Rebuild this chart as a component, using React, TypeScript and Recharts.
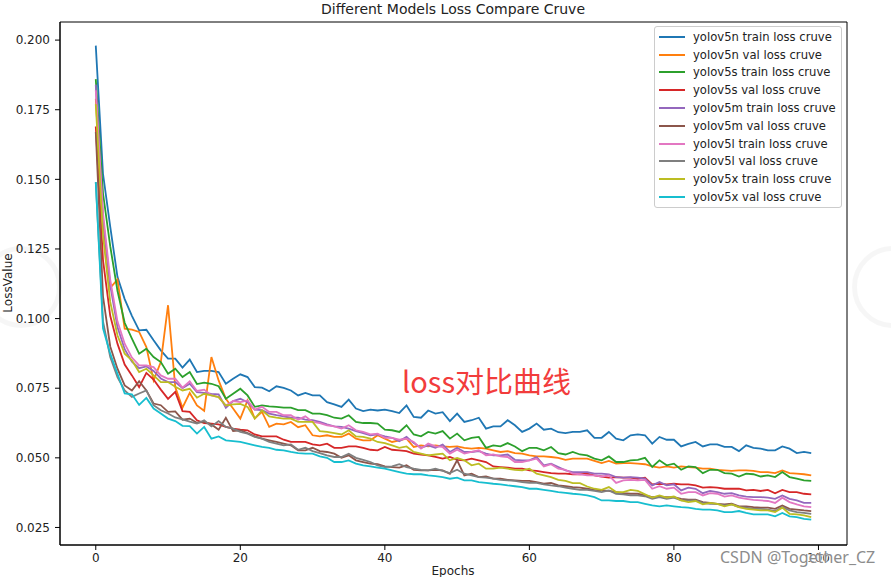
import { Line, LineChart, ReferenceArea, XAxis, YAxis } from 'recharts'

const epochs = Array.from({ length: 100 }, (_, i) => i)

const yolov5nTrain = [
  0.198, 0.152, 0.133, 0.115, 0.107, 0.101, 0.0958, 0.096, 0.0922, 0.0886, 0.0856,
  0.0856, 0.0824, 0.0853, 0.0808, 0.0812, 0.0812, 0.0808, 0.0766, 0.0784, 0.08, 0.079, 0.0754, 0.0752, 0.0739, 0.0757, 0.0751, 0.0742,
  0.0724, 0.0733, 0.0724, 0.0724, 0.07, 0.0692, 0.0683, 0.0709, 0.0677, 0.0668, 0.0673, 0.067, 0.0673, 0.0668, 0.0661, 0.0688, 0.0647, 0.0644, 0.067,
  0.0659, 0.0664, 0.0632, 0.0659, 0.0629, 0.0635, 0.0644, 0.0605, 0.0613, 0.0613, 0.0635, 0.0617, 0.0593, 0.0605, 0.0623, 0.0601, 0.0605, 0.0592,
  0.0589, 0.0593, 0.0593, 0.0599, 0.0572, 0.0572, 0.0593, 0.0569, 0.0563, 0.0581, 0.0584, 0.0581, 0.0551, 0.0575, 0.0565, 0.0565, 0.0541, 0.055,
  0.0557, 0.0541, 0.0548, 0.0548, 0.0539, 0.0539, 0.0524, 0.0545, 0.0536, 0.0533, 0.0527, 0.0527, 0.0541, 0.0533, 0.0517, 0.0521, 0.0517,
]

const yolov5nVal = [
  0.179, 0.135, 0.111, 0.114, 0.0964, 0.096, 0.0952, 0.0898, 0.0778, 0.0844, 0.1048,
  0.0754, 0.068, 0.0733, 0.0688, 0.0669, 0.0862, 0.0778, 0.0712, 0.0677, 0.0641, 0.0706, 0.0641, 0.0665, 0.0611, 0.0623, 0.062, 0.0629,
  0.061, 0.0617, 0.0581, 0.0577, 0.0581, 0.0575, 0.0575, 0.0587, 0.0569, 0.0563, 0.0563, 0.0581, 0.0569, 0.0557, 0.0563, 0.0569, 0.0539, 0.0545, 0.0541,
  0.0545, 0.0541, 0.0539, 0.0541, 0.0536, 0.0533, 0.0536, 0.0533, 0.0527, 0.0521, 0.0524, 0.0517, 0.0515, 0.0509, 0.0505, 0.0505, 0.0503, 0.05,
  0.0493, 0.0497, 0.0497, 0.0497, 0.0489, 0.0481, 0.0489, 0.0479, 0.0481, 0.0481, 0.0479, 0.0477, 0.0469, 0.0465, 0.0469, 0.0465, 0.0469, 0.0467,
  0.0465, 0.0461, 0.0461, 0.0457, 0.0455, 0.0453, 0.0455, 0.0455, 0.0453, 0.0449, 0.0449, 0.0445, 0.0455, 0.0445, 0.0443, 0.0441, 0.0437,
]

const yolov5sTrain = [
  0.186, 0.145, 0.126, 0.11, 0.0985, 0.0928, 0.0874, 0.0892, 0.0862, 0.0844, 0.0802,
  0.082, 0.079, 0.0808, 0.0765, 0.077, 0.0766, 0.0757, 0.0712, 0.073, 0.0748, 0.0724, 0.0683, 0.0688, 0.0685, 0.0683, 0.068, 0.068,
  0.0671, 0.0671, 0.0659, 0.0659, 0.0653, 0.0644, 0.0641, 0.0653, 0.0629, 0.0625, 0.0625, 0.0623, 0.0601, 0.0599, 0.0593, 0.0617, 0.0584, 0.0577, 0.0593,
  0.0587, 0.0596, 0.0569, 0.0587, 0.0563, 0.0572, 0.0575, 0.0536, 0.0545, 0.0541, 0.0553, 0.0541, 0.0524, 0.0536, 0.0536, 0.0527, 0.0539, 0.0517,
  0.0512, 0.0521, 0.0512, 0.0509, 0.0497, 0.0491, 0.0505, 0.0485, 0.0485, 0.0491, 0.0493, 0.05, 0.0467, 0.0491, 0.0473, 0.0479, 0.0457, 0.0469,
  0.0467, 0.0445, 0.0457, 0.0457, 0.0445, 0.0443, 0.0433, 0.0443, 0.0441, 0.0433, 0.0437, 0.0431, 0.0449, 0.0431, 0.0425, 0.0419, 0.0417,
]

const yolov5sVal = [
  0.169, 0.121, 0.101, 0.091, 0.0835, 0.0796, 0.0754, 0.0805, 0.0781, 0.0745, 0.0712,
  0.0737, 0.0668, 0.0665, 0.0635, 0.0625, 0.0623, 0.062, 0.0611, 0.0605, 0.0601, 0.0599, 0.0584, 0.0577, 0.0577, 0.0577, 0.0565, 0.0557,
  0.0557, 0.0557, 0.0548, 0.0545, 0.0551, 0.0536, 0.0536, 0.0541, 0.0541, 0.0536, 0.0529, 0.0527, 0.0539, 0.0529, 0.0527, 0.0524, 0.0515, 0.0512, 0.0509,
  0.0503, 0.0497, 0.0503, 0.0493, 0.0491, 0.0497, 0.0491, 0.0485, 0.0469, 0.0467, 0.0465, 0.0461, 0.0461, 0.0455, 0.0453, 0.0449, 0.0445, 0.0443,
  0.0443, 0.0441, 0.0441, 0.0443, 0.0437, 0.0433, 0.0429, 0.0431, 0.0429, 0.0429, 0.0425, 0.0429, 0.0405, 0.0407, 0.0405, 0.0407, 0.0405, 0.0405,
  0.0401, 0.0393, 0.0395, 0.0393, 0.0389, 0.0389, 0.0389, 0.0383, 0.0385, 0.0381, 0.0385, 0.0373, 0.0385, 0.0377, 0.0377, 0.0371, 0.0369,
]

const yolov5mTrain = [
  0.184, 0.136, 0.112, 0.097, 0.089, 0.0845, 0.0822, 0.0828, 0.0812, 0.0785, 0.0772,
  0.0772, 0.075, 0.0766, 0.0736, 0.0733, 0.073, 0.0728, 0.068, 0.0704, 0.0712, 0.07, 0.0673, 0.0671, 0.0659, 0.0653, 0.0649, 0.0644,
  0.0644, 0.0637, 0.0635, 0.0629, 0.062, 0.0613, 0.0611, 0.0605, 0.0596, 0.0589, 0.0581, 0.0584, 0.0577, 0.0572, 0.056, 0.0575, 0.0553, 0.0536, 0.0545,
  0.0536, 0.0548, 0.0521, 0.0536, 0.0521, 0.0521, 0.0524, 0.0515, 0.0509, 0.0509, 0.0512, 0.0493, 0.0491, 0.0491, 0.0503, 0.0473, 0.0479, 0.0467,
  0.0455, 0.0449, 0.0449, 0.0449, 0.0443, 0.0443, 0.0441, 0.0431, 0.0429, 0.0431, 0.0429, 0.0425, 0.0401, 0.0413, 0.0401, 0.0405, 0.0383, 0.0393,
  0.0389, 0.0373, 0.0381, 0.0377, 0.0371, 0.0373, 0.0365, 0.0361, 0.0359, 0.0359, 0.0357, 0.0353, 0.0365, 0.0353, 0.0347, 0.0338, 0.0338,
]

const yolov5mVal = [
  0.167, 0.108, 0.09, 0.082, 0.076, 0.0742, 0.0775, 0.0742, 0.0695, 0.0689, 0.0665,
  0.0667, 0.0637, 0.0641, 0.0626, 0.0629, 0.062, 0.0601, 0.0644, 0.0596, 0.0599, 0.0589, 0.0577, 0.0569, 0.0563, 0.0557, 0.0551, 0.0545,
  0.0527, 0.0527, 0.0536, 0.0524, 0.0521, 0.0515, 0.05, 0.0509, 0.0491, 0.0485, 0.0479, 0.0477, 0.0469, 0.0467, 0.0465, 0.0473, 0.0457, 0.0455, 0.0455,
  0.0457, 0.0455, 0.0443, 0.0491, 0.0437, 0.0443, 0.0431, 0.0433, 0.0425, 0.0425, 0.0421, 0.0419, 0.0417, 0.0417, 0.0413, 0.0407, 0.041, 0.0401,
  0.0398, 0.0395, 0.0393, 0.0389, 0.0385, 0.0383, 0.0381, 0.0377, 0.0373, 0.0371, 0.0371, 0.0365, 0.0359, 0.0361, 0.0359, 0.0359, 0.0353, 0.035,
  0.035, 0.0341, 0.0338, 0.0335, 0.0333, 0.0335, 0.0326, 0.0326, 0.0323, 0.0321, 0.0321, 0.0317, 0.0329, 0.0317, 0.0314, 0.0311, 0.0309,
]

const yolov5lTrain = [
  0.182, 0.138, 0.114, 0.099, 0.091, 0.086, 0.0832, 0.0832, 0.0826, 0.0796, 0.0784,
  0.0784, 0.0752, 0.0775, 0.074, 0.0745, 0.0724, 0.0718, 0.0688, 0.0704, 0.07, 0.0706, 0.0673, 0.0683, 0.0665, 0.0665, 0.0653, 0.0653,
  0.0637, 0.0649, 0.0629, 0.0625, 0.0617, 0.0613, 0.0605, 0.0617, 0.0599, 0.0593, 0.0584, 0.0587, 0.0572, 0.0572, 0.0565, 0.0569, 0.0557, 0.0533, 0.0551,
  0.0541, 0.0539, 0.0515, 0.0529, 0.0515, 0.0521, 0.0527, 0.0509, 0.0512, 0.0505, 0.0503, 0.0485, 0.0485, 0.0491, 0.0497, 0.0469, 0.0477, 0.0461,
  0.0457, 0.0443, 0.0441, 0.0437, 0.0437, 0.0433, 0.0437, 0.041, 0.0419, 0.0421, 0.0419, 0.0421, 0.0389, 0.0398, 0.0389, 0.0393, 0.0371, 0.0377,
  0.0377, 0.0365, 0.0373, 0.0371, 0.0361, 0.0365, 0.0357, 0.0353, 0.0349, 0.0347, 0.0345, 0.0338, 0.0357, 0.0341, 0.0333, 0.0326, 0.0323,
]

const yolov5lVal = [
  0.149, 0.099, 0.0862, 0.079, 0.0742, 0.0719, 0.0731, 0.0742, 0.0689, 0.0671, 0.0659,
  0.0645, 0.0638, 0.063, 0.0623, 0.0635, 0.0613, 0.0632, 0.0611, 0.0605, 0.0593, 0.0587, 0.0575, 0.0569, 0.0557, 0.0551, 0.0545, 0.0548,
  0.0529, 0.0536, 0.0524, 0.0517, 0.0509, 0.0503, 0.0503, 0.0515, 0.05, 0.0493, 0.0485, 0.0473, 0.0467, 0.0469, 0.0477, 0.0467, 0.0461, 0.0457, 0.0455,
  0.0461, 0.0453, 0.0445, 0.0457, 0.0443, 0.0437, 0.0431, 0.0429, 0.0425, 0.0421, 0.0419, 0.0417, 0.0413, 0.041, 0.041, 0.0405, 0.0401, 0.0398,
  0.0393, 0.0389, 0.0385, 0.0385, 0.0381, 0.0377, 0.0383, 0.0371, 0.0369, 0.0365, 0.0365, 0.0362, 0.0353, 0.0359, 0.0353, 0.0357, 0.0347, 0.0347,
  0.0347, 0.0338, 0.0335, 0.0335, 0.0329, 0.0333, 0.0323, 0.0321, 0.0317, 0.0317, 0.0314, 0.0309, 0.0323, 0.0311, 0.0305, 0.0302, 0.0299,
]

const yolov5xTrain = [
  0.177, 0.13, 0.106, 0.094, 0.0874, 0.085, 0.0808, 0.082, 0.0796, 0.0772, 0.0772,
  0.0755, 0.0742, 0.0748, 0.0716, 0.073, 0.0724, 0.0718, 0.0688, 0.0692, 0.0694, 0.0683, 0.0641, 0.0671, 0.0649, 0.0644, 0.0641, 0.0641,
  0.0629, 0.0629, 0.0629, 0.0596, 0.0593, 0.0589, 0.0584, 0.0599, 0.0577, 0.0575, 0.0569, 0.0557, 0.0553, 0.0545, 0.0536, 0.0541, 0.0521, 0.0515, 0.0509,
  0.0512, 0.0515, 0.0491, 0.05, 0.0491, 0.0473, 0.0479, 0.0461, 0.0461, 0.0465, 0.0461, 0.0457, 0.0455, 0.0461, 0.0443, 0.0437, 0.0431, 0.0421,
  0.0417, 0.0409, 0.0409, 0.0397, 0.0389, 0.0385, 0.0395, 0.0377, 0.0377, 0.0385, 0.0381, 0.0369, 0.0357, 0.0365, 0.0357, 0.0361, 0.0347, 0.0341,
  0.0345, 0.0333, 0.0338, 0.0335, 0.0326, 0.0333, 0.0323, 0.0317, 0.0314, 0.0311, 0.0311, 0.0305, 0.0321, 0.0299, 0.0297, 0.0293, 0.0287,
]

const yolov5xVal = [
  0.149, 0.0965, 0.0874, 0.0802, 0.0731, 0.0728, 0.069, 0.0715, 0.0677, 0.0659, 0.0641,
  0.0632, 0.0615, 0.0614, 0.0587, 0.0611, 0.0569, 0.0577, 0.0563, 0.056, 0.0557, 0.0551, 0.0545, 0.0539, 0.0536, 0.0529, 0.0527, 0.0521,
  0.0517, 0.0515, 0.0515, 0.0505, 0.05, 0.0485, 0.0485, 0.0491, 0.0479, 0.0473, 0.0469, 0.0465, 0.0461, 0.0455, 0.0449, 0.0443, 0.0441, 0.0441, 0.0437,
  0.0434, 0.0431, 0.0425, 0.0429, 0.0419, 0.0419, 0.0413, 0.041, 0.0407, 0.0405, 0.0401, 0.0398, 0.0395, 0.0389, 0.0389, 0.0385, 0.0381, 0.0377,
  0.0374, 0.0371, 0.0369, 0.0365, 0.0359, 0.0347, 0.0347, 0.0345, 0.0345, 0.0341, 0.0341, 0.0335, 0.0329, 0.0326, 0.0329, 0.0326, 0.0323, 0.0321,
  0.0317, 0.0314, 0.0314, 0.0311, 0.0305, 0.0305, 0.0309, 0.0302, 0.0297, 0.0297, 0.0297, 0.029, 0.0302, 0.029, 0.0287, 0.0281, 0.0278,
]

const xTicks = [0, 20, 40, 60, 80, 100]
const yTicks = [0.025, 0.05, 0.075, 0.1, 0.125, 0.15, 0.175, 0.2]

const series = [
  { key: 'nTrain', name: 'yolov5n train loss cruve', color: '#1f77b4', values: yolov5nTrain },
  { key: 'nVal', name: 'yolov5n val loss cruve', color: '#ff7f0e', values: yolov5nVal },
  { key: 'sTrain', name: 'yolov5s train loss cruve', color: '#2ca02c', values: yolov5sTrain },
  { key: 'sVal', name: 'yolov5s val loss cruve', color: '#d62728', values: yolov5sVal },
  { key: 'mTrain', name: 'yolov5m train loss cruve', color: '#9467bd', values: yolov5mTrain },
  { key: 'mVal', name: 'yolov5m val loss cruve', color: '#8c564b', values: yolov5mVal },
  { key: 'lTrain', name: 'yolov5l train loss cruve', color: '#e377c2', values: yolov5lTrain },
  { key: 'lVal', name: 'yolov5l val loss cruve', color: '#7f7f7f', values: yolov5lVal },
  { key: 'xTrain', name: 'yolov5x train loss cruve', color: '#bcbd22', values: yolov5xTrain },
  { key: 'xVal', name: 'yolov5x val loss cruve', color: '#17becf', values: yolov5xVal },
]

const data = epochs.map((epoch, i) => {
  const row: Record<string, number> = { epoch }
  series.forEach((s) => {
    row[s.key] = s.values[i]
  })
  return row
})

const FONT = '"DejaVu Sans", sans-serif'
const X_DOMAIN: [number, number] = [-4.95, 103.95]
const Y_DOMAIN: [number, number] = [0.0187, 0.2065]

function ChartLegend() {
  return (
    <div
      style={{
        position: 'absolute',
        left: 654,
        top: 26,
        width: 188,
        padding: '1px 0',
        border: '1px solid #cccccc',
        borderRadius: 3,
        background: 'rgba(255,255,255,0.8)',
        fontFamily: FONT,
        fontSize: 11.6,
        color: '#222',
        boxSizing: 'border-box',
      }}
    >
      {series.map((s) => (
        <div key={s.key} style={{ display: 'flex', alignItems: 'center', height: 17.8 }}>
          <span style={{ display: 'inline-block', marginLeft: 4, width: 26, height: 2, background: s.color }} />
          <span style={{ marginLeft: 8, whiteSpace: 'nowrap' }}>{s.name}</span>
        </div>
      ))}
    </div>
  )
}

export default function App() {
  return (
    <div style={{ position: 'absolute', left: 0, top: 0, width: 891, height: 577, background: '#fff', overflow: 'hidden' }}>
      <div
        style={{
          position: 'absolute',
          left: 0,
          top: 1,
          width: 906,
          textAlign: 'center',
          fontFamily: FONT,
          fontSize: 14,
          color: '#222',
        }}
      >
        Different Models Loss Compare Cruve
      </div>

      <LineChart width={891} height={577} data={data} margin={{ top: 22, right: 44, bottom: 0, left: 0 }}>
        <XAxis
          dataKey="epoch"
          type="number"
          domain={X_DOMAIN}
          ticks={xTicks}
          allowDataOverflow
          height={32}
          tickSize={5}
          tickMargin={3}
          stroke="#000"
          tick={{ fill: '#222', fontSize: 12, fontFamily: FONT }}
        />
        <YAxis
          type="number"
          domain={Y_DOMAIN}
          ticks={yTicks}
          allowDataOverflow
          width={60}
          tickSize={5}
          tickMargin={5}
          stroke="#000"
          tickFormatter={(v: number) => v.toFixed(3)}
          tick={{ fill: '#222', fontSize: 12, fontFamily: FONT }}
        />
        <ReferenceArea
          x1={X_DOMAIN[0]}
          x2={X_DOMAIN[1]}
          y1={Y_DOMAIN[0]}
          y2={Y_DOMAIN[1]}
          fill="none"
          stroke="#000"
          strokeWidth={1}
        />
        {series.map((s) => (
          <Line
            key={s.key}
            dataKey={s.key}
            name={s.name}
            type="linear"
            stroke={s.color}
            strokeWidth={1.8}
            dot={false}
            isAnimationActive={false}
          />
        ))}
      </LineChart>

      <ChartLegend />

      <div
        style={{
          position: 'absolute',
          left: 8,
          top: 283,
          transform: 'translate(-50%, -50%) rotate(-90deg)',
          fontFamily: FONT,
          fontSize: 12,
          color: '#222',
          whiteSpace: 'nowrap',
        }}
      >
        LossValue
      </div>
      <div
        style={{
          position: 'absolute',
          left: 453,
          top: 564,
          transform: 'translateX(-50%)',
          fontFamily: FONT,
          fontSize: 12,
          color: '#222',
        }}
      >
        Epochs
      </div>

      <div
        style={{
          position: 'absolute',
          left: -20,
          top: 246,
          width: 72,
          height: 72,
          borderRadius: '50%',
          border: '5px solid rgba(0,0,0,0.035)',
        }}
      />
      <div
        style={{
          position: 'absolute',
          left: 852,
          top: 246,
          width: 72,
          height: 72,
          borderRadius: '50%',
          border: '5px solid rgba(0,0,0,0.035)',
        }}
      />

      <div
        style={{
          position: 'absolute',
          left: 402,
          top: 362,
          fontFamily: '"Noto Sans CJK SC", "Noto Sans", sans-serif',
          fontSize: 29,
          lineHeight: '36px',
          color: '#f23c3c',
          whiteSpace: 'nowrap',
        }}
      >
        loss对比曲线
      </div>

      <div
        style={{
          position: 'absolute',
          left: 720,
          top: 547,
          fontFamily: '"Noto Sans", sans-serif',
          fontSize: 16,
          lineHeight: '20px',
          color: '#8c8c8c',
          textShadow: '0 0 2px #fff, 0 0 2px #fff',
          whiteSpace: 'nowrap',
        }}
      >
        CSDN @Together_CZ
      </div>
    </div>
  )
}
